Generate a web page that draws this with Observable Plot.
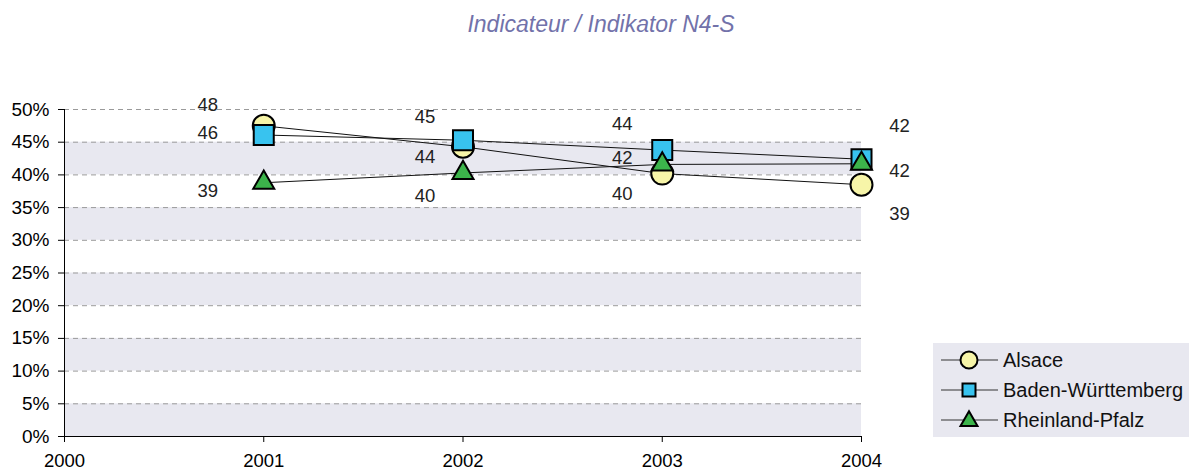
<!DOCTYPE html>
<html>
<head>
<meta charset="utf-8">
<script src="https://cdn.jsdelivr.net/npm/d3@7"></script>
<script src="https://cdn.jsdelivr.net/npm/@observablehq/plot@0.6"></script>
<style>
  html, body { margin: 0; padding: 0; background: #fff; }
  #chart svg { display: block; }
</style>
</head>
<body>
<div id="chart"></div>
<script>
// ---- data ----
const years = [2001, 2002, 2003, 2004];
const seriesNames = ["Alsace", "Baden-Württemberg", "Rheinland-Pfalz"];
const alsace = [47.5, 44.3, 40.2, 38.5];
const badenWuerttemberg = [46.1, 45.3, 43.8, 42.4];
const rheinlandPfalz = [38.8, 40.3, 41.6, 41.7];
const xTicks = [2000, 2001, 2002, 2003, 2004];
const yTicks = [0, 5, 10, 15, 20, 25, 30, 35, 40, 45, 50];
const titleText = "Indicateur / Indikator N4-S";

// ---- layout (label offsets in px, styles) ----
const labelDx = [-56, -38, -40, 38];
const labelDy = [
  [-21, 10, 20, 29],
  [-2, -23, -26, -33],
  [8, 23, -6, 7]
];
const styles = [
  {symbol: "circle", r: 11, fill: "#f7f5a8"},
  {symbol: "square", r: 11.3, fill: "#38c3ef"},
  {symbol: "triangle", r: 7.8, fill: "#3cb44b"}
];
const legendSizes = [Math.PI * 8.5 * 8.5, 13 * 13, Math.sqrt(3) / 4 * 17 * 17];

const seriesValues = [alsace, badenWuerttemberg, rheinlandPfalz];
const rows = seriesValues.map((vals, s) =>
  years.map((yr, i) => ({series: seriesNames[s], s, i, year: yr, value: vals[i]}))
);
const bands = yTicks.filter((t, k) => k % 2 === 0 && t < yTicks[yTicks.length - 1])
  .map(t => ({y1: t, y2: t + 5}));

const font = "'Liberation Sans', Arial, sans-serif";

const marks = [
  Plot.rect(bands, {x1: xTicks[0], x2: xTicks[xTicks.length - 1], y1: "y1", y2: "y2", fill: "#e8e8f0"}),
  Plot.ruleY(yTicks.filter(t => t > 0), {stroke: "#9a9a9a", strokeDasharray: "5,4", strokeWidth: 1}),
  Plot.axisY({ticks: yTicks, tickFormat: d => d + "%", tickSize: 6, tickPadding: 9, label: null, stroke: "#000", fontSize: 19}),
  Plot.axisX({ticks: xTicks, tickFormat: d => String(d), tickSize: 6, tickPadding: 11, label: null, stroke: "#000", fontSize: 18.5}),
  Plot.ruleX([xTicks[0]], {stroke: "#000", strokeWidth: 1}),
  Plot.ruleY([0], {stroke: "#000", strokeWidth: 1})
];
rows.forEach(r => marks.push(Plot.line(r, {x: "year", y: "value", stroke: "#111", strokeWidth: 1})));
rows.forEach((r, s) => marks.push(Plot.dot(r, {
  x: "year", y: "value", symbol: styles[s].symbol, r: styles[s].r,
  fill: styles[s].fill, stroke: "#000", strokeWidth: 2
})));
// value labels, one mark per point so each can have its own offset
rows.forEach((r, s) => r.forEach(d => marks.push(
  Plot.text([d], {x: "year", y: "value", text: dd => String(Math.round(dd.value)),
    dx: labelDx[d.i], dy: labelDy[s][d.i], fill: "#222", fontSize: 18.5})
)));

const svg = Plot.plot({
  width: 1189,
  height: 472,
  marginTop: 109,
  marginBottom: 36,
  marginLeft: 64,
  marginRight: 328,
  x: {domain: [xTicks[0], xTicks[xTicks.length - 1]]},
  y: {domain: [yTicks[0], yTicks[yTicks.length - 1]]},
  style: {fontSize: "18px", fontFamily: font, color: "#000", background: "#fff"},
  marks
});

const sel = d3.select(svg);
// title
sel.append("text")
  .attr("x", 601).attr("y", 32)
  .attr("text-anchor", "middle")
  .attr("font-style", "italic")
  .attr("font-size", 23)
  .attr("font-family", font)
  .attr("fill", "#7272aa")
  .text(titleText);

// legend
const lg = sel.append("g").attr("text-anchor", "start");
lg.append("rect").attr("x", 933).attr("y", 343).attr("width", 256).attr("height", 94).attr("fill", "#e8e8f0");
const symTypes = [d3.symbolCircle, d3.symbolSquare, d3.symbolTriangle];
seriesNames.forEach((name, s) => {
  const cy = 360 + s * 30;
  lg.append("line").attr("x1", 941).attr("x2", 998).attr("y1", cy).attr("y2", cy)
    .attr("stroke", "#333").attr("stroke-width", 1.2);
  lg.append("path").attr("transform", `translate(969,${cy + (s === 2 ? 1 : 0)})`)
    .attr("d", d3.symbol(symTypes[s], legendSizes[s])())
    .attr("fill", styles[s].fill).attr("stroke", "#000").attr("stroke-width", 2);
  lg.append("text").attr("x", 1003).attr("y", cy).attr("dy", "0.35em")
    .attr("text-anchor", "start")
    .attr("font-size", 20).attr("font-family", font).attr("fill", "#111")
    .text(name);
});

document.getElementById("chart").appendChild(svg);
</script>
</body>
</html>
